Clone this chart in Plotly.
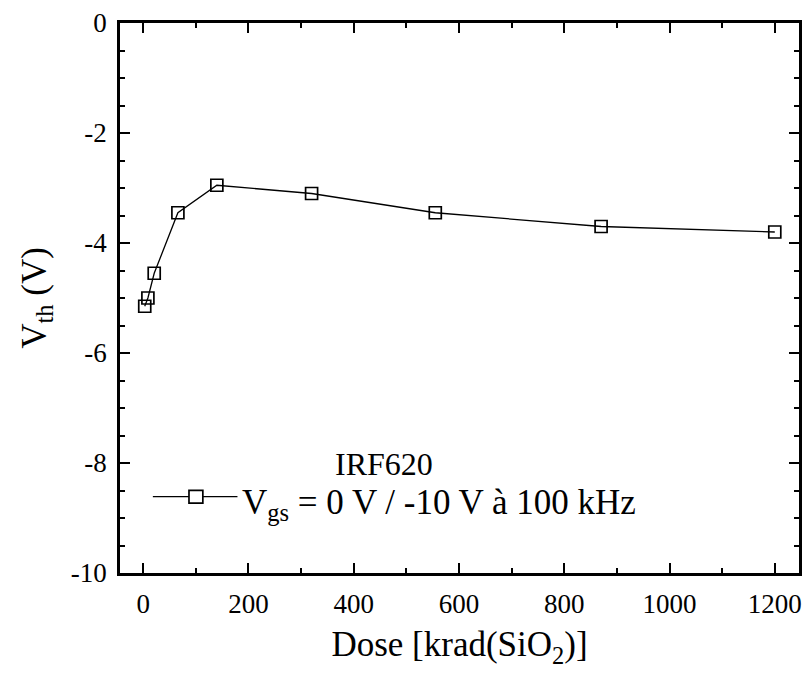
import plotly.graph_objects as go

# Threshold voltage of an IRF620 versus total ionising dose
dose = [3, 9, 21, 66, 140, 320, 555, 870, 1200]          # krad(SiO2)
vth = [-5.15, -5.0, -4.55, -3.45, -2.95, -3.1, -3.45, -3.7, -3.8]  # V

x_ticks = [0, 200, 400, 600, 800, 1000, 1200]
y_ticks = [0, -2, -4, -6, -8, -10]

FONT = "Times New Roman, Liberation Serif, serif"

fig = go.Figure()
fig.add_trace(go.Scatter(
    x=dose, y=vth, mode="lines+markers",
    line=dict(color="black", width=1.3),
    marker=dict(symbol="square-open", size=12, color="black",
                line=dict(width=1.7, color="black")),
    showlegend=False,
))

axis_common = dict(
    showgrid=False, zeroline=False,
    showline=True, linecolor="black", linewidth=2.5, mirror="ticks",
    ticks="inside", ticklen=10, tickwidth=2, tickcolor="black",
    tickfont=dict(family=FONT, size=27, color="black"),
)

fig.update_xaxes(
    range=[-44, 1246], tickvals=x_ticks,
    ticktext=[str(v) for v in x_ticks],
    ticklabelstandoff=5,
    minor=dict(dtick=100, tick0=0, ticks="inside", ticklen=5, tickwidth=2,
               tickcolor="black"),
    title=dict(text="Dose [krad(SiO<sub>2</sub>)]",
               font=dict(family=FONT, size=35, color="black"), standoff=14),
    **axis_common,
)
fig.update_yaxes(
    range=[-10, 0], tickvals=y_ticks,
    ticktext=[str(v) for v in y_ticks],
    ticklabelstandoff=5,
    minor=dict(dtick=0.5, tick0=0, ticks="inside", ticklen=5, tickwidth=2,
               tickcolor="black"),
    title=dict(text="V<sub>th</sub> (V)",
               font=dict(family=FONT, size=35, color="black"), standoff=14),
    **axis_common,
)

# Legend block drawn inside the frame
leg_y = 0.1387
fig.add_shape(type="line", xref="paper", yref="paper",
              x0=0.0484, x1=0.173, y0=leg_y, y1=leg_y,
              line=dict(color="black", width=1.3))
fig.add_shape(type="rect", xref="paper", yref="paper",
              x0=0.1016, x1=0.122, y0=leg_y - 0.0115, y1=leg_y + 0.0115,
              fillcolor="white", line=dict(color="black", width=1.7))
fig.add_annotation(xref="paper", yref="paper", x=0.176, y=leg_y - 0.015,
                   xanchor="left", yanchor="middle", showarrow=False,
                   text="V<sub>gs</sub> = 0 V / -10 V à 100 kHz",
                   font=dict(family=FONT, size=35, color="black"))
fig.add_annotation(xref="paper", yref="paper", x=0.3886, y=0.198,
                   xanchor="center", yanchor="middle", showarrow=False,
                   text="IRF620",
                   font=dict(family=FONT, size=32, color="black"))

fig.update_layout(
    width=809, height=676,
    margin=dict(l=120, r=7, t=23, b=103),
    paper_bgcolor="white", plot_bgcolor="white",
    font=dict(family=FONT, color="black"),
)

fig.write_html("out.html")
